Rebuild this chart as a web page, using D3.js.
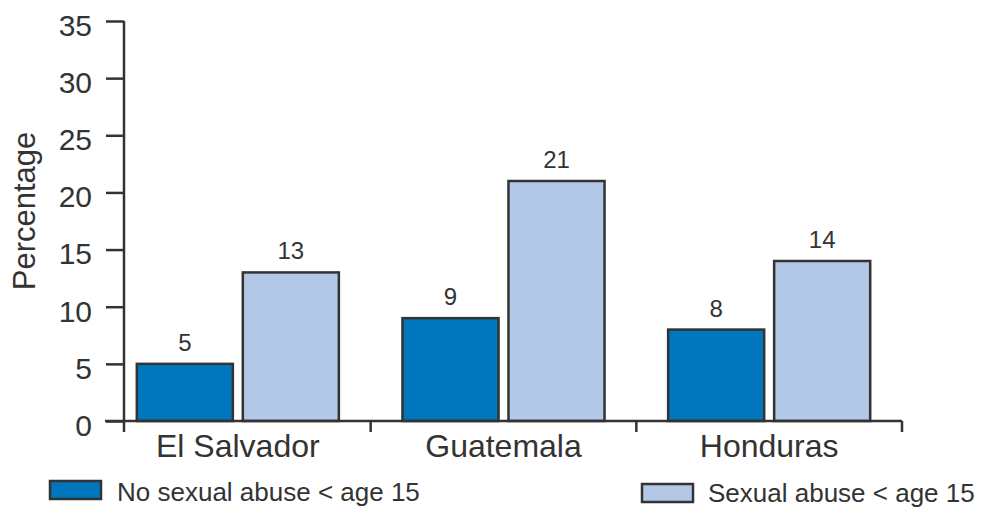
<!DOCTYPE html>
<html><head><meta charset="utf-8">
<script src="https://cdn.jsdelivr.net/npm/d3@7"></script>
<style>
html,body{margin:0;padding:0;background:#fff;}
svg{display:block;font-family:"Liberation Sans",Arial,sans-serif;}
</style></head>
<body>
<svg id="chart" width="985" height="508"></svg>
<script>
const categories = ["El Salvador", "Guatemala", "Honduras"];
const seriesNames = ["No sexual abuse < age 15", "Sexual abuse < age 15"];
const noAbuse = [5, 9, 8];
const abuse = [13, 21, 14];
const yTicks = [0, 5, 10, 15, 20, 25, 30, 35];
const yLabel = "Percentage";

const colors = ["#0077bd", "#b3c8e6"];
const ink = "#333333";
const svg = d3.select("#chart");

const x = d3.scaleBand().domain(categories).range([105, 902]).padding(0);
const xi = d3.scaleBand().domain(seriesNames).range([0, x.bandwidth()])
  .paddingInner(0.094).paddingOuter(0.3);
const y = d3.scaleLinear().domain([0, 35]).range([421, 21]);
const axisX = 124;

const data = categories.map((c, i) => ({cat: c, vals: [noAbuse[i], abuse[i]]}));

// bars
const g = svg.append("g");
data.forEach(d => {
  d.vals.forEach((v, j) => {
    const bx = x(d.cat) + xi(seriesNames[j]);
    g.append("rect")
      .attr("x", bx).attr("y", y(v))
      .attr("width", xi.bandwidth()).attr("height", y(0) - y(v))
      .attr("fill", colors[j]).attr("stroke", ink).attr("stroke-width", 2.5);
    g.append("text")
      .attr("x", bx + xi.bandwidth() / 2).attr("y", y(v) - 13)
      .attr("text-anchor", "middle").attr("font-size", 24).attr("fill", ink)
      .text(v);
  });
});

// y axis
const yAxis = svg.append("g").attr("transform", `translate(${axisX},0)`)
  .call(d3.axisLeft(y).tickValues(yTicks).tickSize(18).tickPadding(14));
yAxis.select(".domain").remove();
yAxis.selectAll(".tick line").attr("stroke", ink).attr("stroke-width", 2.5);
yAxis.selectAll(".tick text").attr("font-size", 30).attr("fill", ink)
  .attr("font-family", "Liberation Sans, Arial, sans-serif").attr("dy", "0.48em");
svg.append("line").attr("x1", axisX).attr("x2", axisX)
  .attr("y1", y(35)).attr("y2", y(0) + 11)
  .attr("stroke", ink).attr("stroke-width", 2.5);

// x axis
svg.append("line").attr("x1", x.range()[0]).attr("x2", x.range()[1])
  .attr("y1", y(0)).attr("y2", y(0)).attr("stroke", ink).attr("stroke-width", 2.5);
categories.forEach((c, i) => {
  if (i > 0) {
    svg.append("line").attr("x1", x(c)).attr("x2", x(c))
      .attr("y1", y(0)).attr("y2", y(0) + 11).attr("stroke", ink).attr("stroke-width", 2.5);
  }
  svg.append("text").attr("x", x(c) + x.bandwidth() / 2).attr("y", 457)
    .attr("text-anchor", "middle").attr("font-size", 32).attr("fill", ink).text(c);
});
svg.append("line").attr("x1", x.range()[1]).attr("x2", x.range()[1])
  .attr("y1", y(0)).attr("y2", y(0) + 11).attr("stroke", ink).attr("stroke-width", 2.5);

// y label
svg.append("text").attr("transform", "translate(35,211) rotate(-90)")
  .attr("text-anchor", "middle").attr("font-size", 31).attr("fill", ink).text(yLabel);

// legend
const legendPos = [{sx: 50, sy: 481, tx: 117, ty: 501}, {sx: 642, sy: 484, tx: 708, ty: 502}];
seriesNames.forEach((s, j) => {
  const p = legendPos[j];
  svg.append("rect").attr("x", p.sx).attr("y", p.sy).attr("width", 51).attr("height", 18)
    .attr("fill", colors[j]).attr("stroke", ink).attr("stroke-width", 2.5);
  svg.append("text").attr("x", p.tx).attr("y", p.ty).attr("font-size", 26)
    .attr("fill", ink).text(s);
});
</script>
</body></html>
